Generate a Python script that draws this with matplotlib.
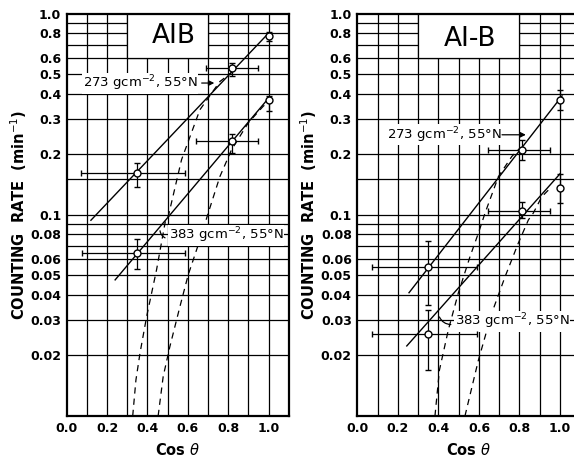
"""
Counting rate vs cos(theta) for the AIB and AI-B detectors.
"""

import matplotlib
matplotlib.use('Agg')
import matplotlib.pyplot as plt
from matplotlib.patches import Rectangle
from matplotlib.ticker import FixedLocator, NullLocator

plt.rcParams['font.family'] = ['DejaVu Sans']

# ---- data ----
ytick_values = [1.0, 0.8, 0.6, 0.5, 0.4, 0.3, 0.2, 0.1, 0.08, 0.06, 0.05, 0.04, 0.03, 0.02]
ytick_labels = ['1.0', '0.8', '0.6', '0.5', '0.4', '0.3', '0.2', '0.1',
                '0.08', '0.06', '0.05', '0.04', '0.03', '0.02']
xtick_values = [0.0, 0.2, 0.4, 0.6, 0.8, 1.0]
xtick_labels = ['0.0', '0.2', '0.4', '0.6', '0.8', '1.0']
hgrid = [0.02, 0.03, 0.04, 0.05, 0.06, 0.07, 0.08, 0.09, 0.1, 0.15,
         0.2, 0.3, 0.4, 0.5, 0.6, 0.7, 0.8, 0.9]
vgrid = [0.1, 0.2, 0.3, 0.4, 0.5, 0.6, 0.7, 0.8, 0.9, 1.0]

# AIB panel
aib_273_x = [0.347, 0.817, 1.0]
aib_273_y = [0.161, 0.537, 0.771]
aib_273_ylo = [0.138, 0.49, 0.73]
aib_273_yhi = [0.181, 0.57, 0.81]
aib_273_xlo = [0.07, 0.69, 1.0]
aib_273_xhi = [0.585, 0.948, 1.0]

aib_383_x = [0.347, 0.817, 1.0]
aib_383_y = [0.0645, 0.232, 0.371]
aib_383_ylo = [0.054, 0.203, 0.33]
aib_383_yhi = [0.0757, 0.252, 0.39]
aib_383_xlo = [0.074, 0.64, 1.0]
aib_383_xhi = [0.585, 0.95, 1.0]

aib_fit_273_x = [0.12, 1.0]
aib_fit_273_y = [0.094, 0.80]
aib_fit_383_x = [0.24, 1.0]
aib_fit_383_y = [0.0475, 0.38]

aib_dash_273_x = [0.327, 0.343, 0.363, 0.396, 0.445, 0.49, 0.503, 0.569, 0.66, 0.759, 0.817]
aib_dash_273_y = [0.01, 0.0151, 0.0205, 0.0312, 0.0532, 0.0944, 0.098, 0.188, 0.333, 0.46, 0.51]
aib_dash_383_x = [0.453, 0.478, 0.511, 0.561, 0.602, 0.66, 0.701, 0.759, 0.817, 0.899, 0.973, 1.0]
aib_dash_383_y = [0.01, 0.0157, 0.0221, 0.035, 0.0503, 0.0751, 0.102, 0.155, 0.211, 0.286, 0.346, 0.365]

# AI-B panel
aib2_273_x = [0.347, 0.814, 1.0]
aib2_273_y = [0.0553, 0.211, 0.373]
aib2_273_ylo = [0.0357, 0.188, 0.333]
aib2_273_yhi = [0.0745, 0.236, 0.416]
aib2_273_xlo = [0.074, 0.643, 1.0]
aib2_273_xhi = [0.589, 0.951, 1.0]

aib2_383_x = [0.347, 0.814, 1.0]
aib2_383_y = [0.0256, 0.104, 0.136]
aib2_383_ylo = [0.0169, 0.0963, 0.114]
aib2_383_yhi = [0.0337, 0.116, 0.16]
aib2_383_xlo = [0.074, 0.643, 1.0]
aib2_383_xhi = [0.589, 0.95, 1.0]

aib2_fit_273_x = [0.255, 1.01]
aib2_fit_273_y = [0.041, 0.39]
aib2_fit_383_x = [0.244, 1.0]
aib2_fit_383_y = [0.0223, 0.16]

aib2_dash_273_x = [0.383, 0.405, 0.449, 0.498, 0.556, 0.597, 0.63, 0.696, 0.762, 0.803]
aib2_dash_273_y = [0.01, 0.0169, 0.0268, 0.0408, 0.062, 0.081, 0.102, 0.155, 0.195, 0.215]
aib2_dash_383_x = [0.531, 0.597, 0.663, 0.729, 0.794, 0.844, 0.868, 0.91, 0.959]
aib2_dash_383_y = [0.01, 0.0189, 0.0324, 0.0493, 0.0723, 0.0944, 0.102, 0.123, 0.138]

LABEL_273 = '273 gcm$^{-2}$, 55\u00b0N'
LABEL_383 = '383 gcm$^{-2}$, 55\u00b0N'


def draw_points(ax, x, y, ylo, yhi, xlo, xhi):
    yerr = [[v - lo for v, lo in zip(y, ylo)], [hi - v for v, hi in zip(y, yhi)]]
    xerr = [[v - lo for v, lo in zip(x, xlo)], [hi - v for v, hi in zip(x, xhi)]]
    ax.errorbar(x, y, yerr=yerr, xerr=xerr, fmt='o', color='black',
                mfc='white', mec='black', ms=5, mew=1.0,
                elinewidth=0.9, capsize=2.5, capthick=0.9, zorder=5)


def setup_axes(ax, title, title_xy):
    ax.set_yscale('log')
    ax.set_xlim(0, 1.1)
    ax.set_ylim(0.01, 1.0)
    for v in hgrid:
        ax.axhline(v, color='black', lw=0.9, zorder=1)
    for v in vgrid:
        ax.axvline(v, color='black', lw=0.9, zorder=1)
    ax.yaxis.set_major_locator(FixedLocator(ytick_values))
    ax.yaxis.set_minor_locator(NullLocator())
    ax.set_yticklabels(ytick_labels)
    ax.set_xticks(xtick_values)
    ax.set_xticklabels(xtick_labels)
    ax.tick_params(length=0, labelsize=9, pad=4)
    for lab in ax.get_xticklabels() + ax.get_yticklabels():
        lab.set_fontweight('bold')
    for sp in ax.spines.values():
        sp.set_linewidth(1.6)
    ax.set_xlabel(r'Cos $\theta$', fontsize=10.5, fontweight='bold', labelpad=5)
    ax.set_ylabel('COUNTING  RATE  (min$^{-1}$)', fontsize=10.5,
                  fontweight='bold', labelpad=1)
    # title box sits between grid lines 0.3 .. 0.7/0.8 and 0.6 .. 1.0
    x0, x1 = title_xy[0], title_xy[1]
    ax.add_patch(Rectangle((x0, 0.6), x1 - x0, 0.4, facecolor='white',
                           edgecolor='black', lw=0.9, zorder=3))
    ax.text(title_xy[2], title_xy[3], title, ha='center', va='center',
            fontsize=19, zorder=4)


fig = plt.figure(figsize=(5.74, 4.57), dpi=100)
ax1 = fig.add_axes([0.1162, 0.0897, 0.3868, 0.8804])
ax2 = fig.add_axes([0.6225, 0.0897, 0.3885, 0.8804])

white = dict(facecolor='white', edgecolor='none', pad=0.5)

# ---- AIB ----
setup_axes(ax1, 'AIB', [0.30, 0.70, 0.53, 0.775])
ax1.plot(aib_fit_273_x, aib_fit_273_y, color='black', lw=1.0, zorder=4)
ax1.plot(aib_fit_383_x, aib_fit_383_y, color='black', lw=1.0, zorder=4)
ax1.plot(aib_dash_273_x, aib_dash_273_y, color='black', lw=0.9, ls=(0, (5, 4)), zorder=4)
ax1.plot(aib_dash_383_x, aib_dash_383_y, color='black', lw=0.9, ls=(0, (5, 4)), zorder=4)
draw_points(ax1, aib_273_x, aib_273_y, aib_273_ylo, aib_273_yhi, aib_273_xlo, aib_273_xhi)
draw_points(ax1, aib_383_x, aib_383_y, aib_383_ylo, aib_383_yhi, aib_383_xlo, aib_383_xhi)
ax1.text(0.08, 0.452, LABEL_273, fontsize=9.5, ha='left', va='center',
         bbox=white, zorder=4)
ax1.annotate('', xy=(0.745, 0.452), xytext=(0.655, 0.452),
             arrowprops=dict(arrowstyle='-|>', color='black', lw=0.9,
                             mutation_scale=8), zorder=4)
ax1.text(0.505, 0.079, LABEL_383, fontsize=9.5, ha='left', va='center',
         bbox=white, zorder=4)
ax1.annotate('', xy=(0.462, 0.086), xytext=(0.50, 0.076),
             arrowprops=dict(arrowstyle='-', color='black', lw=0.9,
                             connectionstyle='arc3,rad=-0.4'), zorder=4)

# ---- AI-B ----
setup_axes(ax2, 'AI-B', [0.30, 0.80, 0.555, 0.745])
ax2.plot(aib2_fit_273_x, aib2_fit_273_y, color='black', lw=1.0, zorder=4)
ax2.plot(aib2_fit_383_x, aib2_fit_383_y, color='black', lw=1.0, zorder=4)
ax2.plot(aib2_dash_273_x, aib2_dash_273_y, color='black', lw=0.9, ls=(0, (5, 4)), zorder=4)
ax2.plot(aib2_dash_383_x, aib2_dash_383_y, color='black', lw=0.9, ls=(0, (5, 4)), zorder=4)
draw_points(ax2, aib2_273_x, aib2_273_y, aib2_273_ylo, aib2_273_yhi, aib2_273_xlo, aib2_273_xhi)
draw_points(ax2, aib2_383_x, aib2_383_y, aib2_383_ylo, aib2_383_yhi, aib2_383_xlo, aib2_383_xhi)
ax2.text(0.145, 0.25, LABEL_273, fontsize=9.5, ha='left', va='center',
         bbox=white, zorder=4)
ax2.annotate('', xy=(0.845, 0.25), xytext=(0.70, 0.25),
             arrowprops=dict(arrowstyle='-|>', color='black', lw=0.9,
                             mutation_scale=8), zorder=4)
ax2.text(0.48, 0.0295, LABEL_383, fontsize=9.5, ha='left', va='center',
         bbox=white, zorder=4)
ax2.annotate('', xy=(0.40, 0.032), xytext=(0.475, 0.0285),
             arrowprops=dict(arrowstyle='-', color='black', lw=0.9,
                             connectionstyle='arc3,rad=-0.4'), zorder=4)

fig.savefig('out.png', dpi=100)
